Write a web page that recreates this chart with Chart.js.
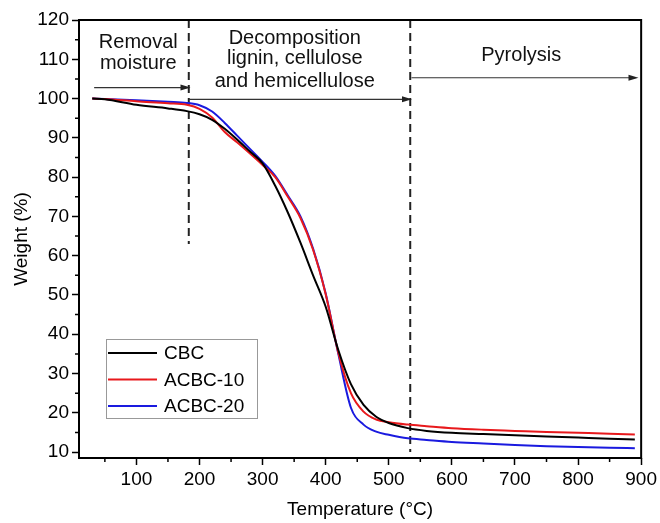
<!DOCTYPE html>
<html>
<head>
<meta charset="utf-8">
<script src="https://cdn.jsdelivr.net/npm/chart.js@4.4.1/dist/chart.umd.min.js"></script>
<style>
  html, body { margin:0; padding:0; background:#fff; }
</style>
</head>
<body>
<canvas id="tga" width="660" height="523"></canvas>
<script>
// TGA curves, weight (%) vs temperature (°C)
const temps  = [30, 50, 100, 150, 180, 200, 220, 240, 260, 280, 300, 320, 340, 360, 380, 400, 420, 440, 460, 480, 500, 530, 560, 600, 650, 700, 750, 800, 850, 890];
const cbc    = [100, 99.8, 98.4, 97.5, 96.8, 96.0, 94.6, 92.3, 89.5, 86.5, 83.5, 77.8, 71.0, 63.3, 55.0, 47.0, 36.0, 27.3, 22.0, 19.0, 17.4, 16.1, 15.4, 14.9, 14.6, 14.3, 14.0, 13.7, 13.4, 13.2];
const acbc10 = [100, 99.9, 99.3, 98.8, 98.4, 97.4, 95.2, 91.5, 88.8, 86.0, 83.1, 80.0, 75.0, 69.6, 61.5, 50.2, 35.3, 25.0, 20.3, 18.3, 17.6, 17.0, 16.6, 16.1, 15.7, 15.4, 15.1, 14.9, 14.7, 14.5];
const acbc20 = [100, 99.9, 99.6, 99.2, 98.9, 98.3, 96.7, 93.8, 90.5, 87.2, 83.9, 80.3, 75.3, 70.0, 61.8, 50.4, 35.0, 21.3, 17.0, 15.2, 14.4, 13.5, 13.1, 12.6, 12.2, 11.8, 11.5, 11.3, 11.1, 11.0];

const seriesNames  = ['CBC', 'ACBC-10', 'ACBC-20'];
const seriesColors = ['#000000', '#e8191c', '#1a1adf'];

const xMajor = [100, 200, 300, 400, 500, 600, 700, 800, 900];
const xMinor = [50, 150, 250, 350, 450, 550, 650, 750, 850];
const yMajor = [10, 20, 30, 40, 50, 60, 70, 80, 90, 100, 110, 120];
const yMinor = [15, 25, 35, 45, 55, 65, 75, 85, 95, 105, 115];

// stage boundaries (dashed)
const stageX      = [183, 534];
const stageTop    = [120, 120];
const stageBottom = [63, 10];

// stage arrows
const arrowFrom = [33, 184, 536];
const arrowTo   = [181, 532, 891];
const arrowY    = [102.8, 99.8, 105.3];

// stage labels: text, x, y
const noteText = ['Removal', 'moisture', 'Decomposition', 'lignin, cellulose', 'and hemicellulose', 'Pyrolysis'];
const noteX    = [103, 103, 351, 351, 351, 710];
const noteY    = [114.4, 109.0, 115.3, 110.1, 104.4, 111.0];

const FONT = '"Liberation Sans", Arial, sans-serif';

const curveSets = [cbc, acbc10, acbc20].map((vals, i) => ({
  label: seriesNames[i],
  data: temps.map((t, j) => ({ x: t, y: vals[j] })),
  borderColor: seriesColors[i],
  borderWidth: 2,
  pointRadius: 0,
  cubicInterpolationMode: 'monotone',
  isCurve: true
}));

const stageSets = stageX.map((x, i) => ({
  data: [{ x, y: stageTop[i] }, { x, y: stageBottom[i] }],
  borderColor: '#222',
  borderWidth: 2,
  borderDash: [8, 5],
  pointRadius: 0
}));

const arrowSets = arrowFrom.map((x0, i) => ({
  data: [{ x: x0, y: arrowY[i] }, { x: arrowTo[i], y: arrowY[i] }],
  borderColor: '#333',
  borderWidth: 1.2,
  pointRadius: 0,
  isArrow: true
}));

const decor = {
  id: 'decor',
  afterDatasetsDraw(chart) {
    const { ctx, chartArea: a, scales: { x, y } } = chart;
    ctx.save();
    // arrow heads
    chart.data.datasets.forEach((ds, i) => {
      if (!ds.isArrow) return;
      const pts = chart.getDatasetMeta(i).data;
      const p = pts[pts.length - 1];
      ctx.fillStyle = '#222';
      ctx.beginPath();
      ctx.moveTo(p.x + 3, p.y);
      ctx.lineTo(p.x - 7, p.y - 3);
      ctx.lineTo(p.x - 7, p.y + 3);
      ctx.closePath();
      ctx.fill();
    });
    // stage labels
    ctx.fillStyle = '#111';
    ctx.font = '20px ' + FONT;
    ctx.textAlign = 'center';
    ctx.textBaseline = 'middle';
    noteText.forEach((t, i) => ctx.fillText(t, x.getPixelForValue(noteX[i]), y.getPixelForValue(noteY[i])));
    // frame
    ctx.strokeStyle = '#000';
    ctx.lineWidth = 2;
    ctx.strokeRect(a.left, a.top, a.right - a.left, a.bottom - a.top);
    // minor ticks
    ctx.lineWidth = 1.5;
    ctx.beginPath();
    xMinor.forEach(v => { const px = x.getPixelForValue(v); ctx.moveTo(px, a.bottom); ctx.lineTo(px, a.bottom + 4); });
    yMinor.forEach(v => { const py = y.getPixelForValue(v); ctx.moveTo(a.left, py); ctx.lineTo(a.left - 4, py); });
    ctx.stroke();
    // legend
    const lx = a.left + 27, ly = 339, lw = 151, lh = 79;
    ctx.fillStyle = '#fff';
    ctx.fillRect(lx, ly, lw, lh);
    ctx.strokeStyle = '#999';
    ctx.lineWidth = 1;
    ctx.strokeRect(lx + 0.5, ly + 0.5, lw, lh);
    ctx.font = '19px ' + FONT;
    ctx.textAlign = 'left';
    ctx.fillStyle = '#000';
    seriesNames.forEach((name, i) => {
      const ry = ly + 14 + i * 26.5;
      ctx.strokeStyle = seriesColors[i];
      ctx.lineWidth = 2;
      ctx.beginPath();
      ctx.moveTo(lx + 2, ry);
      ctx.lineTo(lx + 51, ry);
      ctx.stroke();
      ctx.fillText(name, lx + 58, ry + 1);
    });
    ctx.restore();
  }
};

new Chart(document.getElementById('tga'), {
  type: 'line',
  data: { datasets: [...curveSets, ...stageSets, ...arrowSets] },
  options: {
    responsive: false,
    animation: false,
    layout: { padding: { left: 0, right: 17, top: 20, bottom: 0 } },
    plugins: { legend: { display: false }, tooltip: { enabled: false } },
    scales: {
      x: {
        type: 'linear', min: 9, max: 900,
        afterBuildTicks: s => { s.ticks = xMajor.map(v => ({ value: v })); },
        afterFit: s => { s.height = 65; },
        ticks: { color: '#000', font: { family: FONT, size: 19 }, padding: 3, maxRotation: 0 },
        grid: { drawOnChartArea: false, tickLength: 7, tickColor: '#000', tickWidth: 1.5 },
        border: { display: false },
        title: { display: true, text: 'Temperature (°C)', color: '#000', font: { family: FONT, size: 19 }, padding: { top: 0, bottom: 2 } }
      },
      y: {
        min: 8.5, max: 120,
        afterBuildTicks: s => { s.ticks = yMajor.map(v => ({ value: v })); },
        afterFit: s => { s.width = 79; },
        ticks: { color: '#000', font: { family: FONT, size: 19 }, padding: 3 },
        grid: { drawOnChartArea: false, tickLength: 7, tickColor: '#000', tickWidth: 1.5 },
        border: { display: false },
        title: { display: true, text: 'Weight (%)', color: '#000', font: { family: FONT, size: 19 }, padding: { top: 10, bottom: 0 } }
      }
    }
  },
  plugins: [decor]
});
</script>
</body>
</html>
